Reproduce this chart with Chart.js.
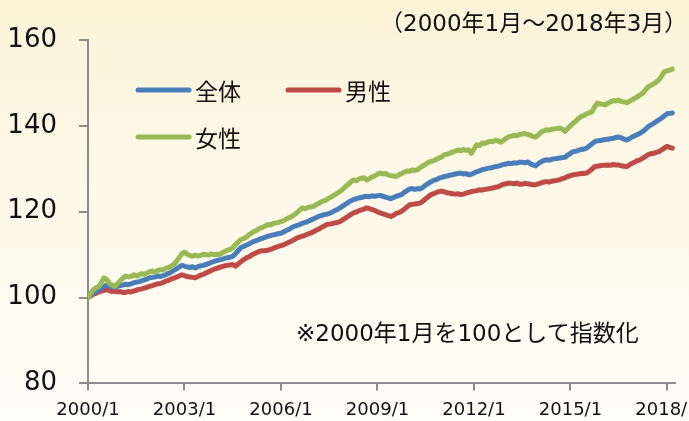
<!DOCTYPE html>
<html lang="ja">
<head>
<meta charset="utf-8">
<script src="https://cdn.jsdelivr.net/npm/chart.js@4.4.0/dist/chart.umd.min.js"></script>
<style>
  html, body { margin: 0; padding: 0; }
  body {
    width: 689px; height: 421px; overflow: hidden;
    background: linear-gradient(to bottom, #fcf3d8 0%, #fdf8e8 45%, #fffdf7 100%);
    font-family: "DejaVu Sans", "Noto Sans CJK JP", sans-serif;
  }
  #wrap { position: relative; width: 730px; height: 421px; }
  .note { position: absolute; font-size: 23px; line-height: 23px; color: #111; white-space: nowrap; }
</style>
</head>
<body>
<div id="wrap">
  <canvas id="chart" width="730" height="421"></canvas>
  <div class="note" style="left:380px; top:12px;">（2000年1月～2018年3月）</div>
  <div class="note" style="left:296px; top:322px;">※2000年1月を100として指数化</div>
</div>
<script>
// monthly index, 2000/1 = 100, one row per year (2000 ... 2018/3)
const totalIndex = [
  100.0, 100.6, 101.0, 101.4, 101.8, 102.3, 102.6, 102.9, 102.7, 102.5, 102.4, 102.6,
  102.8, 102.9, 103.1, 103.0, 103.2, 103.4, 103.6, 103.7, 103.9, 104.1, 104.3, 104.6,
  104.7, 104.8, 105.0, 104.9, 105.1, 105.3, 105.6, 105.9, 106.3, 106.7, 107.1, 107.5,
  107.3, 107.1, 107.0, 107.2, 106.9, 107.2, 107.4, 107.5, 107.7, 107.9, 108.2, 108.4,
  108.6, 108.8, 108.9, 109.1, 109.3, 109.4, 109.6, 110.2, 110.9, 111.6, 111.9, 112.2,
  112.5, 112.8, 113.1, 113.3, 113.6, 113.8, 114.0, 114.3, 114.4, 114.6, 114.7, 114.9,
  115.0, 115.3, 115.6, 115.9, 116.3, 116.6, 116.8, 117.0, 117.3, 117.5, 117.7, 118.0,
  118.3, 118.6, 118.9, 119.1, 119.3, 119.4, 119.6, 119.9, 120.2, 120.5, 120.9, 121.3,
  121.7, 122.1, 122.5, 122.8, 123.0, 123.2, 123.3, 123.5, 123.6, 123.5, 123.7, 123.6,
  123.7, 123.8, 123.6, 123.4, 123.2, 123.0, 123.3, 123.6, 123.8, 124.0, 124.5, 124.9,
  125.3, 125.4, 125.2, 125.4, 125.3, 125.7, 126.2, 126.6, 127.0, 127.3, 127.5, 127.8,
  128.0, 128.2, 128.3, 128.5, 128.6, 128.8, 128.9, 129.0, 128.8, 128.9, 128.6, 128.7,
  129.0, 129.3, 129.5, 129.8, 129.9, 130.1, 130.2, 130.3, 130.5, 130.6, 130.8, 131.0,
  131.1, 131.3, 131.2, 131.4, 131.3, 131.5, 131.5, 131.4, 131.6, 131.2, 130.9, 130.7,
  131.2, 131.6, 131.9, 132.1, 132.0, 132.2, 132.3, 132.4, 132.5, 132.6, 132.7, 133.2,
  133.6, 134.0, 134.1, 134.3, 134.5, 134.6, 134.8, 135.3, 135.8, 136.3, 136.5, 136.6,
  136.7, 136.8, 136.9, 137.0, 137.1, 137.3, 137.4, 137.2, 136.9, 136.7, 137.0, 137.4,
  137.7, 138.0, 138.3, 138.7, 139.2, 139.8, 140.2, 140.6, 141.0, 141.4, 141.8, 142.3,
  142.8, 142.9, 143.0
];

const maleIndex = [
  100.0, 100.4, 100.8, 101.0, 101.3, 101.5, 101.7, 101.9, 101.6, 101.4, 101.5, 101.3,
  101.4, 101.2, 101.2, 101.4, 101.3, 101.5, 101.7, 101.9, 102.0, 102.2, 102.4, 102.6,
  102.8, 103.0, 103.2, 103.3, 103.5, 103.8, 104.0, 104.3, 104.5, 104.8, 105.0, 105.3,
  105.1, 104.9, 104.8, 104.7, 104.6, 104.9, 105.2, 105.4, 105.7, 106.0, 106.3, 106.6,
  106.8, 107.0, 107.2, 107.4, 107.5, 107.6, 107.7, 107.3, 107.8, 108.3, 108.8, 109.2,
  109.5, 109.9, 110.2, 110.5, 110.8, 110.9, 110.9, 111.0, 111.2, 111.4, 111.7, 111.9,
  112.1, 112.3, 112.6, 112.9, 113.2, 113.5, 113.9, 114.1, 114.3, 114.5, 114.8, 115.0,
  115.3, 115.6, 115.9, 116.3, 116.6, 117.0, 117.1, 117.2, 117.4, 117.5, 117.7, 118.1,
  118.5, 118.9, 119.3, 119.7, 119.9, 120.2, 120.4, 120.6, 120.9, 120.7, 120.5, 120.3,
  120.0, 119.7, 119.5, 119.3, 119.1, 118.9, 119.2, 119.6, 119.8, 120.1, 120.6, 121.1,
  121.6, 121.7, 121.8, 121.9, 122.0, 122.5, 123.0, 123.5, 124.0, 124.2, 124.5, 124.7,
  124.8, 124.6, 124.4, 124.3, 124.2, 124.1, 124.2, 124.0, 124.1, 124.3, 124.5, 124.7,
  124.8, 124.9, 125.1, 125.0, 125.2, 125.3, 125.4, 125.5, 125.7, 125.8, 126.1, 126.4,
  126.5, 126.7, 126.6, 126.5, 126.7, 126.4, 126.4, 126.6, 126.5, 126.4, 126.3, 126.3,
  126.5, 126.7, 126.9, 127.0, 126.9, 127.1, 127.2, 127.3, 127.5, 127.7, 127.9, 128.2,
  128.4, 128.6, 128.7, 128.8, 128.9, 128.9, 129.0, 129.4, 129.9, 130.5, 130.6, 130.7,
  130.8, 130.8, 130.9, 130.8, 131.0, 130.9, 130.9, 130.7, 130.6, 130.5, 130.9, 131.3,
  131.6, 131.9, 132.1, 132.5, 132.9, 133.3, 133.5, 133.6, 133.8, 134.0, 134.4, 134.8,
  135.2, 135.0, 134.8
];

const femaleIndex = [
  100.0, 100.9, 101.8, 102.3, 102.6, 103.5, 104.6, 104.2, 103.3, 102.9, 102.6, 103.2,
  103.9, 104.5, 105.0, 104.8, 104.9, 105.3, 105.0, 105.2, 105.6, 105.4, 105.7, 106.0,
  106.2, 105.9, 106.3, 106.5, 106.4, 106.8, 107.0, 107.3, 107.7, 108.4, 109.3, 110.2,
  110.6, 110.1, 109.8, 109.6, 109.9, 109.7, 109.8, 110.1, 110.0, 109.9, 110.2, 110.0,
  110.1, 110.0, 110.4, 110.7, 111.0, 111.2, 111.6, 112.3, 112.9, 113.5, 113.7, 114.1,
  114.6, 115.0, 115.4, 115.7, 116.1, 116.3, 116.6, 117.0, 116.9, 117.2, 117.4, 117.5,
  117.7, 117.9, 118.3, 118.6, 118.9, 119.3, 119.8, 120.4, 120.9, 120.7, 121.0, 121.1,
  121.2, 121.6, 121.9, 122.3, 122.5, 122.8, 123.2, 123.5, 123.9, 124.3, 124.7, 125.2,
  125.8, 126.3, 126.9, 127.4, 127.2, 127.6, 127.8, 127.9, 127.4, 127.7, 128.1, 128.4,
  128.7, 129.0, 128.8, 128.9, 128.6, 128.4, 128.3, 128.2, 128.6, 128.9, 129.2, 129.5,
  129.4, 129.7, 129.6, 129.8, 130.3, 130.7, 131.1, 131.5, 131.7, 131.9, 132.2, 132.5,
  132.8, 133.3, 133.4, 133.6, 133.9, 134.1, 134.4, 134.2, 134.5, 134.3, 134.4, 133.6,
  134.6, 135.6, 135.4, 136.0, 135.9, 136.2, 136.4, 136.3, 136.7, 136.5, 136.2, 136.6,
  137.1, 137.5, 137.6, 137.8, 137.7, 138.0, 138.1, 138.2, 138.0, 137.8, 137.5, 137.4,
  137.9, 138.5, 138.8, 139.1, 139.0, 139.2, 139.3, 139.4, 139.5, 139.2, 138.7, 139.4,
  140.0, 140.6, 141.1, 141.7, 142.2, 142.4, 142.8, 143.0, 143.3, 144.4, 145.3, 145.1,
  145.0, 144.9, 145.3, 145.6, 145.9, 145.8, 146.0, 145.7, 145.6, 145.4, 145.7, 146.1,
  146.4, 146.8, 147.2, 147.6, 148.4, 149.1, 149.4, 149.8, 150.2, 150.7, 151.6, 152.6,
  152.8, 153.0, 153.2
];

const seriesLabels = ['全体', '男性', '女性'];
const xTickLabels = ['2000/1', '2003/1', '2006/1', '2009/1', '2012/1', '2015/1', '2018/1'];
const monthsPerTick = 36;

const toPoints = (arr) => arr.map((v, i) => ({ x: i, y: v }));

// legend line start x / centre y, per series
const legendSlots = [[138, 90], [288, 90], [138, 137]];

const cornerLegend = {
  id: 'cornerLegend',
  afterDraw(chart) {
    const ctx = chart.ctx;
    ctx.save();
    chart.data.datasets.forEach((ds, i) => {
      const [x, y] = legendSlots[i];
      ctx.strokeStyle = ds.borderColor;
      ctx.lineWidth = 5;
      ctx.lineCap = 'round';
      ctx.beginPath();
      ctx.moveTo(x, y);
      ctx.lineTo(x + 51, y);
      ctx.stroke();
      ctx.fillStyle = '#111';
      ctx.font = '23px "Noto Sans CJK JP"';
      ctx.textBaseline = 'middle';
      ctx.fillText(ds.label, x + 57, y + 1);
    });
    ctx.restore();
  }
};

const axisGrey = '#8c8c8c';

new Chart(document.getElementById('chart'), {
  type: 'line',
  data: {
    datasets: [
      { label: seriesLabels[0], data: toPoints(totalIndex), borderColor: '#4a7ebb', order: 2 },
      { label: seriesLabels[1], data: toPoints(maleIndex), borderColor: '#be4b48', order: 3 },
      { label: seriesLabels[2], data: toPoints(femaleIndex), borderColor: '#98b954', order: 1 }
    ]
  },
  options: {
    responsive: false,
    devicePixelRatio: 1,
    animation: false,
    layout: { padding: { top: 40, right: 55, bottom: 0, left: 0 } },
    elements: {
      line: { borderWidth: 5, tension: 0, borderCapStyle: 'round', borderJoinStyle: 'round', fill: false },
      point: { radius: 0, hoverRadius: 0 }
    },
    plugins: {
      legend: { display: false },
      tooltip: { enabled: false }
    },
    scales: {
      x: {
        type: 'linear',
        min: 0,
        max: 219,
        afterFit: (scale) => { scale.height = 37; },
        afterBuildTicks: (scale) => {
          scale.ticks = xTickLabels.map((_, k) => ({ value: k * monthsPerTick }));
        },
        ticks: {
          autoSkip: false,
          maxRotation: 0,
          padding: 9,
          color: '#111',
          font: { family: '"DejaVu Sans", sans-serif', size: 18 },
          callback: (v) => xTickLabels[Math.round(v / monthsPerTick)]
        },
        grid: { drawOnChartArea: false, drawTicks: true, tickLength: 7, color: axisGrey, lineWidth: 2 },
        border: { color: axisGrey, width: 2 }
      },
      y: {
        min: 80,
        max: 160,
        afterFit: (scale) => { scale.width = 88; },
        ticks: {
          stepSize: 20,
          padding: 22,
          color: '#111',
          font: { family: '"DejaVu Sans", sans-serif', size: 26 }
        },
        grid: { drawOnChartArea: false, drawTicks: true, tickLength: 9, color: axisGrey, lineWidth: 2 },
        border: { color: axisGrey, width: 2 }
      }
    }
  },
  plugins: [cornerLegend]
});
</script>
</body>
</html>
